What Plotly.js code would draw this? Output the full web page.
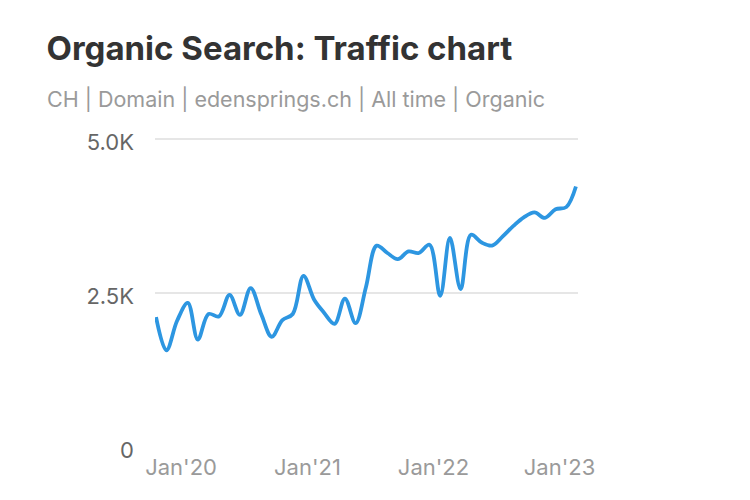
<!DOCTYPE html>
<html>
<head>
<meta charset="utf-8">
<script src="https://cdn.plot.ly/plotly-3.0.1.min.js"></script>
<style>
  html, body { margin: 0; padding: 0; background: #fff; }
  #chart { width: 750px; height: 500px; }
</style>
</head>
<body>
<div id="chart"></div>
<script>
// Monthly organic traffic, Nov 2019 – Mar 2023
const months = [
  '2019-11-01','2019-12-01','2020-01-01','2020-02-01','2020-03-01','2020-04-01',
  '2020-05-01','2020-06-01','2020-07-01','2020-08-01','2020-09-01','2020-10-01',
  '2020-11-01','2020-12-01','2021-01-01','2021-02-01','2021-03-01','2021-04-01',
  '2021-05-01','2021-06-01','2021-07-01','2021-08-01','2021-09-01','2021-10-01',
  '2021-11-01','2021-12-01','2022-01-01','2022-02-01','2022-03-01','2022-04-01',
  '2022-05-01','2022-06-01','2022-07-01','2022-08-01','2022-09-01','2022-10-01',
  '2022-11-01','2022-12-01','2023-01-01','2023-02-01','2023-03-01'
];
const traffic = [
  2110, 1570, 2050, 2340, 1745, 2160,
  2120, 2470, 2145, 2580, 2150, 1790,
  2060, 2160, 2780, 2390, 2185, 2000,
  2410, 2010, 2600, 3270, 3150, 3050,
  3175, 3150, 3285, 2455, 3395, 2565,
  3445, 3320, 3270, 3420, 3590, 3730,
  3810, 3720, 3860, 3895, 4230
];
const yTickVals = [0, 2500, 5000];
const yTickText = ['0', '2.5K', '5.0K'];
const xTickVals = ['2020-01-01', '2021-01-01', '2022-01-01', '2023-01-01'];
const xTickText = ["Jan'20", "Jan'21", "Jan'22", "Jan'23"];
const titleText = 'Organic Search: Traffic chart';
const subtitleText = 'CH | Domain | edensprings.ch | All time | Organic';

const trace = {
  x: months,
  y: traffic,
  type: 'scatter',
  mode: 'lines',
  line: { color: '#2d96e1', width: 3.8, shape: 'spline', smoothing: 1 },
  hoverinfo: 'x+y'
};

const layout = {
  width: 750,
  height: 500,
  paper_bgcolor: '#ffffff',
  plot_bgcolor: '#ffffff',
  margin: { l: 155, r: 172, t: 136, b: 53 },
  showlegend: false,
  font: { family: 'Inter, "Noto Sans", sans-serif' },
  title: {
    text: '<b>' + titleText + '</b>',
    font: { family: 'Inter, sans-serif', size: 33, color: '#333333' },
    xref: 'container', yref: 'container',
    x: 0.062, xanchor: 'left',
    y: 0.904, yanchor: 'middle'
  },
  annotations: [{
    text: subtitleText,
    xref: 'paper', yref: 'paper',
    x: -0.259, xanchor: 'left',
    y: 1.12, yanchor: 'middle',
    showarrow: false,
    font: { family: 'Inter, sans-serif', size: 21.5, color: '#9a9a9a' }
  }],
  xaxis: {
    type: 'date',
    range: ['2019-10-29', '2023-03-07'],
    tickvals: xTickVals,
    ticktext: xTickText,
    showgrid: false,
    zeroline: false,
    showline: false,
    ticks: '',
    ticklabelstandoff: 5,
    ticklabelshift: 4,
    tickfont: { family: 'Inter, sans-serif', size: 22, color: '#9a9a9a' }
  },
  yaxis: {
    range: [0, 5050],
    tickvals: yTickVals,
    ticktext: yTickText,
    showgrid: true,
    gridcolor: '#e6e6e6',
    gridwidth: 2,
    zeroline: true,
    zerolinecolor: 'rgba(0,0,0,0)',
    showline: false,
    ticks: '',
    ticklabelstandoff: 20,
    ticklabelshift: 3,
    tickfont: { family: 'Inter, sans-serif', size: 22, color: '#666666' }
  }
};

Plotly.newPlot('chart', [trace], layout, { displayModeBar: false, staticPlot: true });
</script>
</body>
</html>
